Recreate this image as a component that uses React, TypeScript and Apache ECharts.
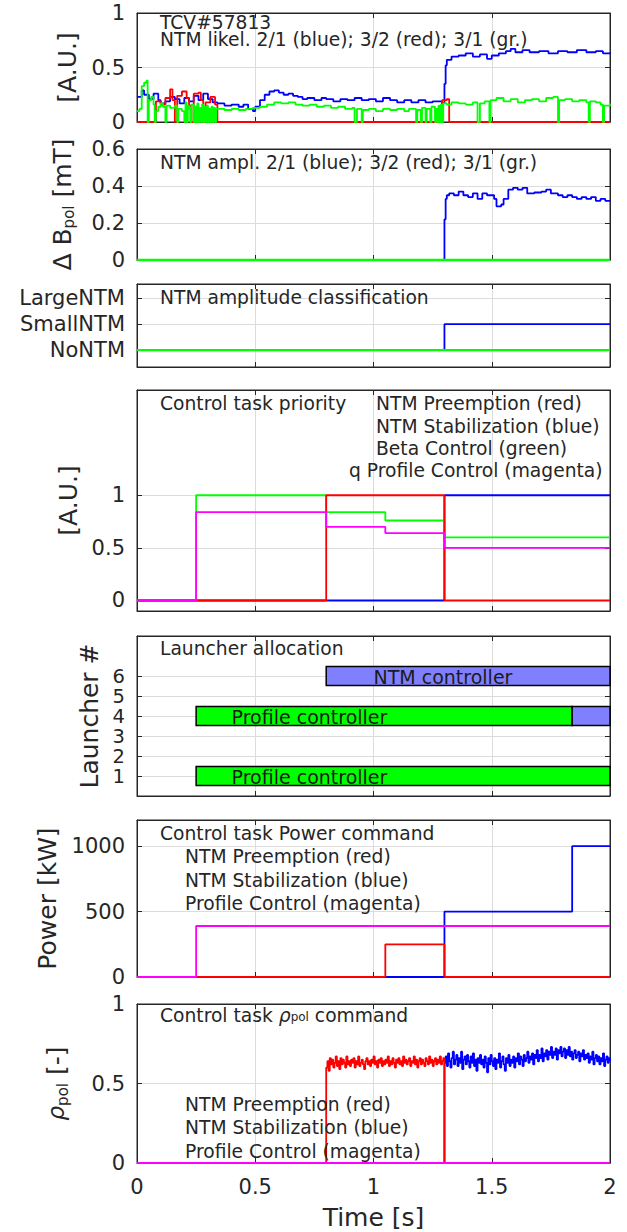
import React, { useEffect, useRef } from "react";
import * as echarts from "echarts";

const FONT = "DejaVu Sans";
const TXT = "#262626";
const GRIDC = "#dcdcdc";
const BLUE = "#0000ff";
const RED = "#ff0000";
const GREEN = "#00ff00";
const MAGENTA = "#ff00ff";
const NTMFILL = "#8080ff";

const timeTicks = [0, 0.5, 1, 1.5, 2];
const classNames = ["NoNTM", "SmallNTM", "LargeNTM"];

// Panel 1: NTM likelihood [t, value]
const likBlue = [[0,0.23],[0.02,0.29],[0.03,0.25],[0.05,0.21],[0.07,0.26],[0.09,0.20],[0.10,0.17],[0.12,0.19],[0.14,0.23],[0.16,0.21],[0.18,0.17],[0.20,0.22],[0.22,0.19],[0.24,0.24],[0.26,0.20],[0.28,0.26],[0.30,0.21],[0.32,0.18],[0.34,0.17],[0.37,0.15],[0.40,0.16],[0.43,0.14],[0.45,0.16],[0.47,0.12],[0.49,0.10],[0.50,0.14],[0.52,0.20],[0.54,0.25],[0.56,0.28],[0.58,0.29],[0.60,0.27],[0.62,0.25],[0.64,0.26],[0.66,0.24],[0.68,0.23],[0.70,0.21],[0.72,0.22],[0.75,0.20],[0.78,0.22],[0.80,0.21],[0.83,0.19],[0.86,0.21],[0.89,0.20],[0.92,0.22],[0.95,0.20],[0.98,0.21],[1.01,0.19],[1.04,0.22],[1.07,0.20],[1.10,0.18],[1.13,0.20],[1.16,0.18],[1.19,0.20],[1.22,0.18],[1.25,0.19],[1.29,0.17],[1.30,0.35],[1.305,0.52],[1.31,0.57],[1.33,0.60],[1.36,0.61],[1.39,0.63],[1.42,0.60],[1.45,0.62],[1.48,0.58],[1.50,0.61],[1.53,0.63],[1.56,0.65],[1.58,0.67],[1.60,0.64],[1.63,0.66],[1.66,0.64],[1.70,0.65],[1.74,0.63],[1.78,0.65],[1.82,0.64],[1.86,0.66],[1.90,0.64],[1.94,0.65],[1.97,0.63],[2.00,0.64]];
const likRed = [[0,0],[0.08,0.19],[0.10,0.16],[0.12,0.22],[0.14,0.30],[0.15,0.20],[0.16,0],[0.17,0.24],[0.19,0.28],[0.21,0.22],[0.22,0.15],[0.23,0],[0.24,0.26],[0.26,0.27],[0.27,0.20],[0.28,0],[0.29,0.18],[0.31,0.23],[0.33,0.16],[0.34,0],[1.28,0],[1.29,0.20],[1.31,0.21],[1.32,0],[2.00,0]];
const likGreen = [[0,0.10],[0.01,0.12],[0.02,0.33],[0.03,0.36],[0.04,0.38],[0.045,0],[0.05,0.20],[0.06,0.23],[0.07,0.16],[0.075,0],[0.08,0.10],[0.09,0.14],[0.10,0.17],[0.11,0.14],[0.12,0],[0.125,0.15],[0.14,0.13],[0.16,0.15],[0.17,0],[0.175,0.12],[0.19,0.10],[0.20,0],[0.205,0.18],[0.21,0],[0.215,0.15],[0.22,0.12],[0.225,0],[0.23,0.16],[0.24,0],[0.245,0.14],[0.25,0],[0.255,0.17],[0.26,0],[0.265,0.13],[0.27,0],[0.275,0.16],[0.28,0],[0.285,0.14],[0.29,0],[0.295,0.15],[0.30,0],[0.305,0.12],[0.31,0],[0.315,0.14],[0.32,0],[0.325,0.13],[0.33,0],[0.335,0.12],[0.34,0.12],[0.37,0.11],[0.40,0.12],[0.43,0.11],[0.46,0.12],[0.49,0.13],[0.52,0.14],[0.55,0.16],[0.58,0.18],[0.61,0.17],[0.64,0.18],[0.67,0.16],[0.70,0.15],[0.73,0.16],[0.76,0.14],[0.79,0.15],[0.82,0.13],[0.85,0.14],[0.88,0.12],[0.91,0.13],[0.92,0],[0.93,0.12],[0.95,0],[0.955,0.11],[0.98,0.12],[1.01,0.10],[1.04,0.12],[1.07,0.11],[1.10,0.12],[1.13,0.10],[1.15,0.12],[1.18,0],[1.185,0.11],[1.20,0],[1.205,0.13],[1.22,0],[1.225,0.12],[1.24,0],[1.245,0.14],[1.26,0],[1.265,0.12],[1.27,0],[1.275,0.15],[1.28,0],[1.285,0.16],[1.29,0],[1.295,0.17],[1.31,0.16],[1.33,0.18],[1.36,0.17],[1.39,0.16],[1.42,0.18],[1.44,0],[1.45,0.17],[1.47,0.19],[1.49,0],[1.495,0.20],[1.52,0.22],[1.55,0.19],[1.58,0.21],[1.61,0.18],[1.64,0.20],[1.67,0.21],[1.70,0.19],[1.73,0.22],[1.76,0.23],[1.78,0],[1.785,0.20],[1.81,0.21],[1.84,0.19],[1.87,0.20],[1.90,0.18],[1.91,0],[1.915,0.19],[1.94,0.18],[1.96,0.16],[1.97,0],[1.975,0.15],[2.00,0.17]];

// Panel 2: NTM amplitude [mT]
const amplBlue = [[0,0],[1.295,0],[1.30,0.22],[1.305,0.33],[1.31,0.35],[1.32,0.36],[1.34,0.35],[1.36,0.37],[1.38,0.35],[1.40,0.34],[1.42,0.36],[1.44,0.33],[1.46,0.36],[1.48,0.35],[1.50,0.35],[1.51,0.33],[1.52,0.29],[1.54,0.30],[1.55,0.33],[1.57,0.38],[1.59,0.39],[1.61,0.38],[1.63,0.39],[1.65,0.36],[1.68,0.365],[1.71,0.37],[1.73,0.38],[1.75,0.36],[1.78,0.35],[1.80,0.34],[1.82,0.35],[1.84,0.34],[1.86,0.33],[1.88,0.34],[1.90,0.33],[1.92,0.34],[1.94,0.32],[1.96,0.33],[1.98,0.32],[2.00,0.32]];
const amplRed = [[0,0],[2,0]];
const amplGreen = [[0,0],[2,0]];

// Panel 3: classification (0 NoNTM, 1 SmallNTM, 2 LargeNTM)
const classBlue = [[0,0],[1.3,1],[2,1]];
const classGreen = [[0,0],[2,0]];

// Panel 4: control task priority
const prioBlue = [[0,0],[1.3,1],[2,1]];
const prioGreen = [[0,0],[0.25,1],[0.8,0.84],[1.05,0.76],[1.3,0.6],[2,0.6]];
const prioRed = [[0,0],[0.8,1],[1.3,0],[2,0]];
const prioMagenta = [[0,0],[0.25,0.84],[0.8,0.7],[1.05,0.64],[1.3,0.5],[2,0.5]];

// Panel 5: launcher allocation [start, end, launcher, kind(0 NTM,1 profile)]
const launcherBars = [[0.8,2,6,0],[0.25,1.84,4,1],[1.84,2,4,0],[0.25,2,1,1]];
const launcherLabels = ["NTM controller", "Profile controller", "", "Profile controller"];
const launcherLabelT = [1.0, 0.4, 0, 0.4];
const launcherTicks = [1, 2, 3, 4, 5, 6];

// Panel 6: power command [kW]
const powBlue = [[0,0],[1.3,500],[1.84,1000],[2,1000]];
const powRed = [[0,0],[1.05,250],[1.3,0],[2,0]];
const powMagenta = [[0,0],[0.25,390],[2,390]];

// Panel 7: rho_pol command
const rhoRedStart = 0.8;
const rhoRedEnd = 1.3;
const rhoBlueStart = 1.3;
const rhoDt = 0.005;
const rhoRedNoise = [0.60,0.64,0.58,0.66,0.62,0.65,0.60,0.63,0.67,0.61,0.64,0.59,0.66,0.62,0.65,0.63,0.60,0.67,0.62,0.64,0.61,0.65,0.63,0.66,0.60,0.64,0.62,0.67,0.61,0.63,0.65,0.62,0.59,0.64,0.66,0.62,0.64,0.61,0.65,0.63,0.67,0.62,0.64,0.60,0.65,0.63,0.66,0.61,0.64,0.62,0.65,0.63,0.67,0.61,0.64,0.62,0.66,0.63,0.60,0.65,0.63,0.66,0.62,0.64,0.61,0.67,0.63,0.65,0.62,0.64,0.66,0.61,0.64,0.63,0.67,0.62,0.65,0.60,0.64,0.66,0.62,0.65,0.63,0.61,0.66,0.64,0.62,0.67,0.63,0.65,0.61,0.64,0.66,0.62,0.65,0.63,0.67,0.62,0.64,0.66];
const rhoBlueNoise = [0.63,0.67,0.61,0.69,0.64,0.60,0.66,0.70,0.62,0.65,0.68,0.61,0.66,0.63,0.70,0.59,0.65,0.67,0.62,0.68,0.64,0.60,0.67,0.63,0.69,0.61,0.65,0.58,0.66,0.63,0.68,0.62,0.65,0.60,0.67,0.63,0.57,0.66,0.62,0.68,0.64,0.61,0.66,0.59,0.65,0.63,0.69,0.60,0.64,0.67,0.62,0.58,0.66,0.63,0.68,0.61,0.65,0.63,0.67,0.60,0.66,0.64,0.69,0.62,0.67,0.65,0.61,0.68,0.64,0.66,0.70,0.63,0.67,0.65,0.69,0.62,0.68,0.66,0.71,0.64,0.68,0.66,0.72,0.64,0.69,0.67,0.71,0.65,0.70,0.68,0.73,0.66,0.70,0.68,0.72,0.65,0.71,0.69,0.73,0.67,0.70,0.72,0.66,0.71,0.68,0.73,0.67,0.70,0.65,0.69,0.71,0.66,0.68,0.70,0.64,0.69,0.67,0.71,0.65,0.68,0.66,0.69,0.63,0.67,0.65,0.70,0.62,0.66,0.68,0.64,0.67,0.62,0.66,0.64,0.69,0.61,0.65,0.67,0.63,0.66,0.64];
const rhoMagenta = [[0,0],[2,0]];

const panels = [
  { top: 13, height: 109, min: 0, max: 1, labels: [0, 0.5, 1], name: "[A.U.]", gap: 57 },
  { top: 149, height: 111, min: 0, max: 0.6, labels: [0, 0.2, 0.4, 0.6], name: "{d|Δ B}{s|pol}{d| [mT]}", gap: 61 },
  { top: 284, height: 83, min: -0.65, max: 2.55, labels: [0, 1, 2], name: "", gap: 0 },
  { top: 390, height: 221, min: -0.1, max: 2, labels: [0, 0.5, 1], name: "[A.U.]", gap: 55 },
  { top: 636, height: 160, min: 0, max: 8, labels: launcherTicks, name: "Launcher #", gap: 35 },
  { top: 820, height: 157, min: 0, max: 1200, labels: [0, 500, 1000], name: "Power [kW]", gap: 77 },
  { top: 1004, height: 159, min: 0, max: 1, labels: [0, 0.5, 1], name: "{r|ρ}{s|pol}{d| [-]}", gap: 67 },
];

const annotations = [
  { x: 160, y: 22, text: "TCV#57813" },
  { x: 160, y: 39, text: "NTM likel. 2/1 (blue); 3/2 (red); 3/1 (gr.)" },
  { x: 160, y: 162, text: "NTM ampl. 2/1 (blue); 3/2 (red); 3/1 (gr.)" },
  { x: 160, y: 297, text: "NTM amplitude classification" },
  { x: 160, y: 403, text: "Control task priority" },
  { x: 376, y: 403, text: "NTM Preemption (red)" },
  { x: 376, y: 426, text: "NTM Stabilization (blue)" },
  { x: 376, y: 448, text: "Beta Control (green)" },
  { x: 349, y: 470, text: "q Profile Control (magenta)" },
  { x: 160, y: 648, text: "Launcher allocation" },
  { x: 160, y: 833, text: "Control task Power command" },
  { x: 185, y: 856, text: "NTM Preemption (red)" },
  { x: 185, y: 880, text: "NTM Stabilization (blue)" },
  { x: 185, y: 903, text: "Profile Control (magenta)" },
  { x: 160, y: 1015, text: "{a|Control task }{r|ρ}{s|pol}{a| command}" },
  { x: 185, y: 1104, text: "NTM Preemption (red)" },
  { x: 185, y: 1127, text: "NTM Stabilization (blue)" },
  { x: 185, y: 1151, text: "Profile Control (magenta)" },
];

const fmt = (v: number) => String(Number(v.toFixed(4)));
const ANN = 18.7;
const TICK = 21;
const NAME = 25;

function buildOption() {
  const grids: any[] = [];
  const xAxes: any[] = [];
  const yAxes: any[] = [];
  const lastIdx = panels.length - 1;
  panels.forEach((p, i) => {
    grids.push({
      left: 137, width: 473, top: p.top, height: p.height,
      show: true, borderColor: TXT, borderWidth: 1, backgroundColor: "#ffffff",
      outerBoundsMode: "none", containLabel: false,
    });
    const line = { show: true, onZero: false, lineStyle: { color: TXT, width: 1 } };
    const xTick = { show: true, inside: true, length: 5, customValues: [0.5, 1, 1.5], lineStyle: { color: TXT, width: 1 } };
    xAxes.push({
      type: "value", gridIndex: i, min: 0, max: 2, position: "bottom",
      axisLine: line, axisTick: xTick,
      axisLabel: { show: i === lastIdx, customValues: timeTicks, formatter: fmt, fontSize: TICK, color: TXT, fontFamily: FONT, margin: 13 },
      splitLine: { show: true, lineStyle: { color: GRIDC, width: 1 } },
      name: i === lastIdx ? "Time [s]" : "", nameLocation: "middle", nameGap: 42,
      nameTextStyle: { fontSize: NAME, color: TXT, fontFamily: FONT },
    });
    xAxes.push({
      type: "value", gridIndex: i, min: 0, max: 2, position: "top",
      axisLine: line, axisTick: xTick, axisLabel: { show: false }, splitLine: { show: false },
    });
    const inner = p.labels.filter((v) => v > p.min && v < p.max);
    const yTick = { show: true, inside: true, length: 5, customValues: inner, lineStyle: { color: TXT, width: 1 } };
    yAxes.push({
      type: "value", gridIndex: i, min: p.min, max: p.max, position: "left",
      axisLine: line, axisTick: yTick,
      axisLabel: {
        show: true, customValues: p.labels, hideOverlap: false,
        formatter: i === 2 ? (v: number) => classNames[Math.round(v)] : fmt,
        fontSize: i === 4 ? 19.5 : TICK, color: TXT, fontFamily: FONT, margin: 12,
      },
      splitLine: { show: true, lineStyle: { color: GRIDC, width: 1 } },
      name: p.name, nameLocation: "middle", nameGap: p.gap, nameRotate: 90,
      nameTextStyle: {
        fontSize: NAME, color: TXT, fontFamily: FONT,
        rich: {
          d: { fontSize: NAME, lineHeight: 28, color: TXT, fontFamily: FONT },
          r: { fontSize: 23, lineHeight: 28, fontStyle: "italic", color: TXT, fontFamily: FONT },
          s: { fontSize: 15, lineHeight: 15, padding: [13, 0, 0, 0], verticalAlign: "bottom", color: TXT, fontFamily: FONT },
        },
      },
    });
    yAxes.push({
      type: "value", gridIndex: i, min: p.min, max: p.max, position: "right",
      axisLine: line, axisTick: yTick, axisLabel: { show: false }, splitLine: { show: false },
    });
  });

  const ln = (data: number[][], color: string, i: number, width = 1.8) => ({
    type: "line", xAxisIndex: 2 * i, yAxisIndex: 2 * i, data, step: "end",
    showSymbol: false, symbol: "none", clip: false, silent: true,
    lineStyle: { color, width }, itemStyle: { color },
  });

  const rhoRed = [[0, 0], ...rhoRedNoise.map((v, k) => [rhoRedStart + k * rhoDt, v]), [rhoRedEnd, 0], [2, 0]];
  const rhoBlue = [[0, 0], ...rhoBlueNoise.map((v, k) => [rhoBlueStart + k * rhoDt, v])];

  const series: any[] = [
    ln(likBlue, BLUE, 0), ln(likRed, RED, 0), ln(likGreen, GREEN, 0),
    ln(amplRed, RED, 1), ln(amplBlue, BLUE, 1), ln(amplGreen, GREEN, 1, 2.4),
    ln(classBlue, BLUE, 2), ln(classGreen, GREEN, 2, 2.4),
    ln(prioBlue, BLUE, 3), ln(prioGreen, GREEN, 3), ln(prioRed, RED, 3), ln(prioMagenta, MAGENTA, 3),
    {
      type: "custom", xAxisIndex: 8, yAxisIndex: 8, data: launcherBars, silent: true,
      encode: { x: [0, 1], y: 2 },
      renderItem: (params: any, api: any) => {
        const s = api.value(0), e = api.value(1), l = api.value(2), k = api.value(3);
        const p0 = api.coord([s, l]);
        const p1 = api.coord([e, l]);
        const h = api.size([0, 0.96])[1];
        const idx = params.dataIndex;
        const children: any[] = [{
          type: "rect",
          shape: { x: p0[0], y: p0[1] - h / 2, width: p1[0] - p0[0], height: h },
          style: { fill: k === 0 ? NTMFILL : GREEN, stroke: "#000000", lineWidth: 1.5 },
        }];
        if (launcherLabels[idx]) {
          const pt = api.coord([launcherLabelT[idx], l]);
          children.push({
            type: "text",
            style: { text: launcherLabels[idx], x: pt[0], y: pt[1] + 1, align: "left", verticalAlign: "middle", fontSize: 19, lineHeight: 16, fontFamily: FONT, fill: "#1a1a1a" },
          });
        }
        return { type: "group", children };
      },
    },
    ln(powBlue, BLUE, 5), ln(powRed, RED, 5), ln(powMagenta, MAGENTA, 5),
    ln(rhoBlue, BLUE, 6), ln(rhoRed, RED, 6), ln(rhoMagenta, MAGENTA, 6, 2.2),
  ];

  const graphic = annotations.map((a) => ({
    type: "text", z: 100, silent: true,
    style: {
      text: a.text, x: a.x, y: a.y, align: "left", verticalAlign: "middle",
      fontSize: ANN, lineHeight: 14, fontFamily: FONT, fill: TXT,
      rich: {
        a: { fontSize: ANN, lineHeight: 16, fontFamily: FONT, fill: TXT },
        r: { fontSize: ANN, lineHeight: 16, fontStyle: "italic", fontFamily: FONT, fill: TXT },
        s: { fontSize: 12, lineHeight: 12, padding: [9, 0, 0, 0], verticalAlign: "bottom", fontFamily: FONT, fill: TXT },
      },
    },
  }));

  return {
    animation: false,
    backgroundColor: "#ffffff",
    textStyle: { fontFamily: FONT },
    grid: grids, xAxis: xAxes, yAxis: yAxes, series,
    graphic: { elements: graphic },
  };
}

export default function App() {
  const ref = useRef<HTMLDivElement>(null);
  useEffect(() => {
    document.body.style.margin = "0";
    if (!ref.current) return;
    const chart = echarts.init(ref.current, null, { renderer: "svg" });
    chart.setOption(buildOption() as any);
    return () => chart.dispose();
  }, []);
  return <div ref={ref} style={{ position: "absolute", left: 0, top: 0, width: 627, height: 1232 }} />;
}
